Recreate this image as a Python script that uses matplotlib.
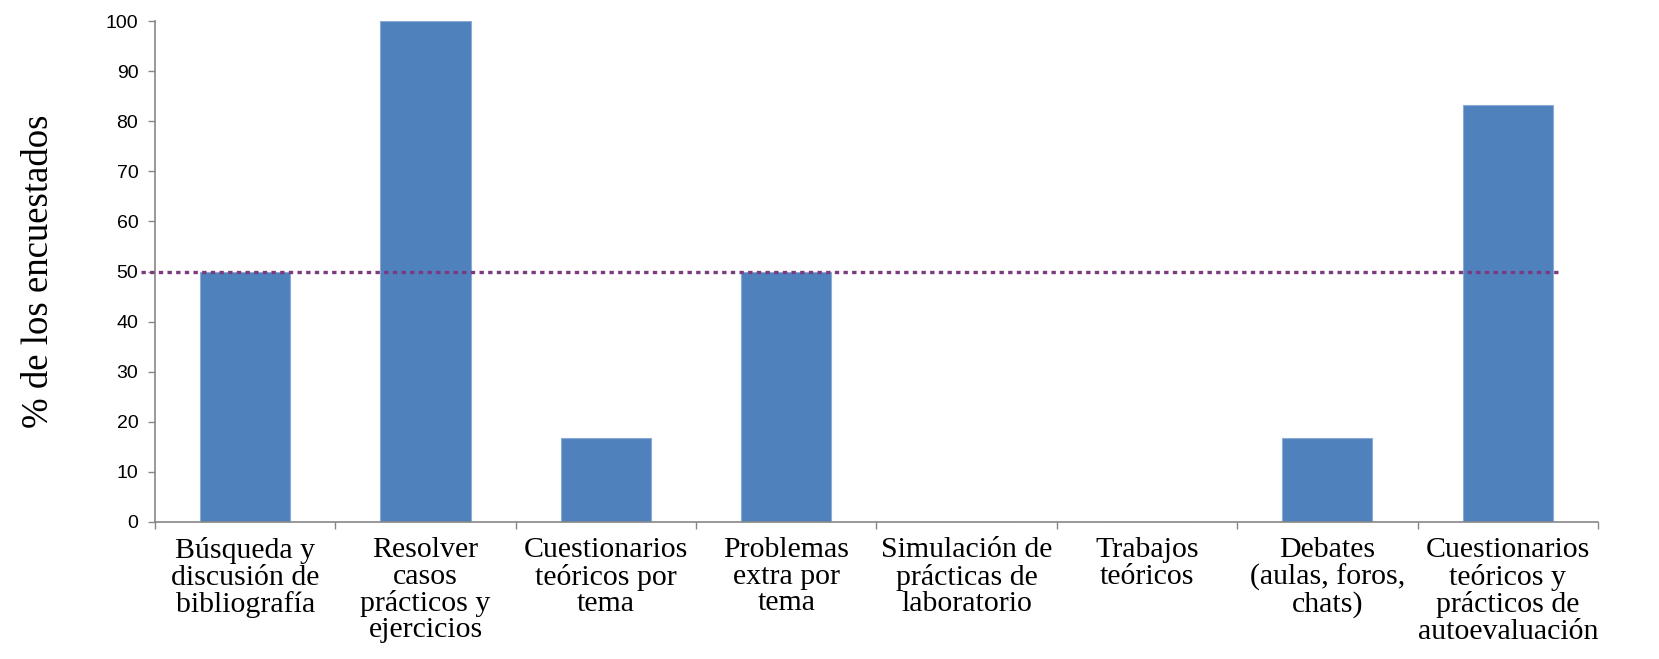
import numpy as np
import matplotlib.pyplot as plt
from matplotlib.ticker import FixedLocator

# chart data
categorias = [
    "Búsqueda y\ndiscusión de\nbibliografía",
    "Resolver\ncasos\nprácticos y\nejercicios",
    "Cuestionarios\nteóricos por\ntema",
    "Problemas\nextra por\ntema",
    "Simulación de\nprácticas de\nlaboratorio",
    "Trabajos\nteóricos",
    "Debates\n(aulas, foros,\nchats)",
    "Cuestionarios\nteóricos y\nprácticos de\nautoevaluación",
]
porcentajes = [50.0, 100.0, 16.67, 50.0, 0.0, 0.0, 16.67, 83.33]
umbral = 50.0
y_ticks = list(range(0, 101, 10))

fig = plt.figure(figsize=(16.59, 6.59), dpi=100)
ax = fig.add_axes([0.0934, 0.2079, 0.9632 - 0.0934, 0.9681 - 0.2079])

x = np.arange(len(categorias))
ax.bar(x, porcentajes, width=0.5, color="#4F81BD", edgecolor="#8CAAD6", linewidth=0.8, zorder=2)

ax.set_xlim(-0.5, len(categorias) - 0.5)
ax.set_ylim(0, 100)

# reference line at 50 %, running slightly past the axis on the left
ax.hlines(umbral, -0.58, 7.29, colors="#7B3A7E", linewidth=2.4,
          linestyles=(0, (1.3, 1.3)), clip_on=False, zorder=3)

grey = "#868686"
for side in ["top", "right"]:
    ax.spines[side].set_visible(False)
for side in ["left", "bottom"]:
    ax.spines[side].set_color(grey)
    ax.spines[side].set_linewidth(1.2)

ax.set_yticks(y_ticks)
ax.set_yticklabels([str(v) for v in y_ticks], fontfamily="Liberation Sans", fontsize=14)
ax.tick_params(axis="y", direction="out", length=5, width=1, color=grey, pad=7)

ax.set_xticks(x)
ax.set_xticklabels(categorias, fontfamily="Liberation Serif", fontsize=21.5,
                   linespacing=1.02, va="top")
ax.tick_params(axis="x", which="major", length=0, pad=11)
ax.xaxis.set_minor_locator(FixedLocator(np.arange(-0.5, len(categorias), 1.0)))
ax.tick_params(axis="x", which="minor", direction="out", length=5, width=1, color=grey)

ax.set_ylabel("% de los encuestados", fontfamily="Liberation Serif", fontsize=26.5, labelpad=36)

fig.savefig("out.png", dpi=100)
